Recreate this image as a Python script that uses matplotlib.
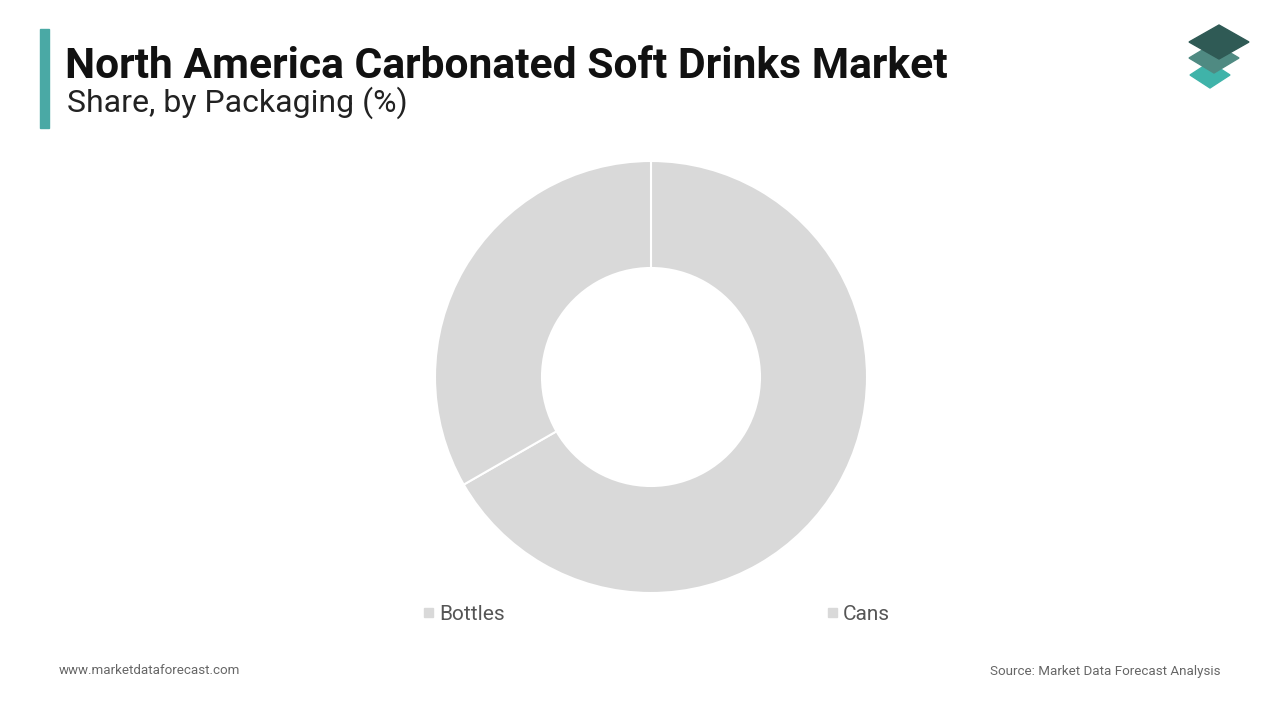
import matplotlib.pyplot as plt
from matplotlib.patches import Polygon, Rectangle

labels = ['Bottles', 'Cans']
shares = [66.7, 33.3]
colors = ['#d9d9d9', '#d9d9d9']

plt.rcParams['font.family'] = ['Roboto', 'DejaVu Sans']
fig = plt.figure(figsize=(12.8, 7.2), dpi=100)
fig.patch.set_facecolor('white')

# donut
ax = fig.add_axes([(651 - 220) / 1280, 1 - (377 + 220) / 720, 440 / 1280, 440 / 720])
ax.pie(shares, colors=colors, startangle=90, counterclock=False,
       radius=216 / 220, wedgeprops=dict(width=107 / 220, edgecolor='white', linewidth=1.5))
ax.set_xlim(-1, 1)
ax.set_ylim(-1, 1)
ax.set_aspect('equal')
ax.axis('off')

# title block
fig.patches.append(Rectangle((40 / 1280, 1 - 128 / 720), 9 / 1280, 99 / 720,
                             transform=fig.transFigure, color='#4aa9a5'))
fig.text(65 / 1280, 1 - 66 / 720, 'North America Carbonated Soft Drinks Market',
         fontsize=30.7, fontweight='bold', va='center', color='#111111')
fig.text(67 / 1280, 1 - 103 / 720, 'Share, by Packaging (%)',
         fontsize=23, va='center', color='#222222')

# legend
for x, lab in zip([424, 828], labels):
    fig.patches.append(Rectangle((x / 1280, 1 - 617 / 720), 9 / 1280, 9 / 720,
                                 transform=fig.transFigure, color='#d9d9d9'))
    fig.text((x + 15) / 1280, 1 - 614 / 720, lab, fontsize=15, va='center', color='#555555')

# footer
fig.text(59 / 1280, 1 - 671 / 720, 'www.marketdataforecast.com', fontsize=9.6, va='center', color='#666666')
fig.text(1220 / 1280, 1 - 671 / 720, 'Source: Market Data Forecast Analysis', fontsize=9.6,
         va='center', ha='right', color='#666666')

# logo
def diamond(cx, cy, w, h, c):
    pts = [(cx - w, cy), (cx, cy - h), (cx + w, cy), (cx, cy + h)]
    fig.patches.append(Polygon([(px / 1280, 1 - py / 720) for px, py in pts],
                               closed=True, transform=fig.transFigure, color=c))

diamond(1210, 75, 20, 13, '#3fb3a9')
diamond(1214, 58, 25, 15, '#4f8a82')
diamond(1219, 42, 30, 17, '#2f5a55')

fig.savefig('out.png', dpi=100)
